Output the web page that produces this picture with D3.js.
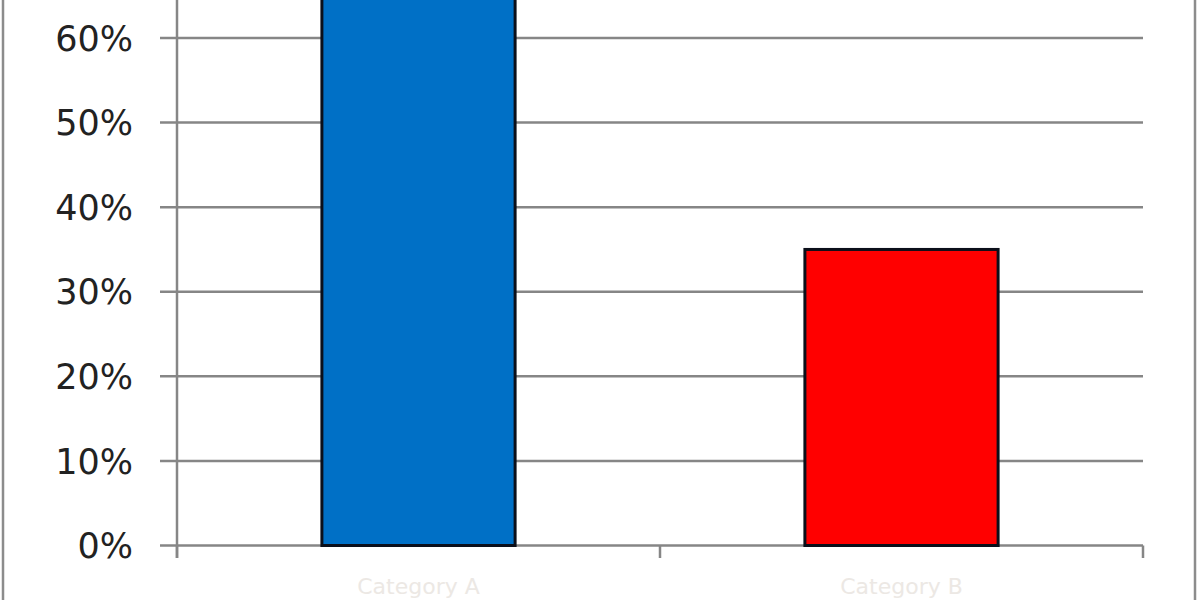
<!DOCTYPE html>
<html>
<head>
<meta charset="utf-8">
<script src="https://cdn.jsdelivr.net/npm/d3@7"></script>
<style>
  body { margin: 0; background: #fff; }
  svg { display: block; }
</style>
</head>
<body>
<div id="chart"></div>
<script>
// values
var categories = ["Category A", "Category B"];
var values = [0.65, 0.35];
var barColors = ["#0070C6", "#FF0000"];
var yTicks = [0, 0.1, 0.2, 0.3, 0.4, 0.5, 0.6];

var width = 1200;
var height = 600;

var svg = d3.select("#chart")
    .append("svg")
    .attr("width", width)
    .attr("height", height)
    .style("background-color", "white");

// outer chart frame (only the sides show in the crop)
svg.append("line")
    .attr("x1", 3).attr("x2", 3)
    .attr("y1", 0).attr("y2", height)
    .attr("stroke", "#8c8c8c").attr("stroke-width", 2.5);
svg.append("line")
    .attr("x1", 1195).attr("x2", 1195)
    .attr("y1", 0).attr("y2", height)
    .attr("stroke", "#8c8c8c").attr("stroke-width", 2.5);

var x = d3.scaleBand()
    .domain(categories)
    .range([177, 1143])
    .paddingInner(0.6)
    .paddingOuter(0.3);

var y = d3.scaleLinear()
    .domain([0, 0.6])
    .range([545.5, 38]);

var fmt = d3.format(".0%");

// gridlines
svg.append("g")
    .selectAll("line")
    .data(yTicks)
    .enter().append("line")
    .attr("x1", 160)
    .attr("x2", 1143)
    .attr("y1", function (d) { return y(d); })
    .attr("y2", function (d) { return y(d); })
    .attr("stroke", "#868686")
    .attr("stroke-width", 2.5);

// y axis line
svg.append("line")
    .attr("x1", 177).attr("x2", 177)
    .attr("y1", 0).attr("y2", 558)
    .attr("stroke", "#868686").attr("stroke-width", 2.5);

// category tick marks below baseline (category boundaries)
svg.append("g")
    .selectAll("line")
    .data(categories.concat(["end"]))
    .enter().append("line")
    .attr("x1", function (d, i) { return i < categories.length ? x(d) - x.step() * 0.3 : 1143; })
    .attr("x2", function (d, i) { return i < categories.length ? x(d) - x.step() * 0.3 : 1143; })
    .attr("y1", 545.5)
    .attr("y2", 558)
    .attr("stroke", "#868686")
    .attr("stroke-width", 2.5);

// y tick labels
svg.append("g")
    .selectAll("text")
    .data(yTicks)
    .enter().append("text")
    .attr("x", 133)
    .attr("y", function (d) { return y(d); })
    .attr("dy", "0.36em")
    .attr("text-anchor", "end")
    .attr("font-family", "DejaVu Sans, Verdana, sans-serif")
    .attr("font-size", "35px")
    .attr("fill", "#222")
    .text(function (d) { return fmt(d); });

// bars
svg.append("g")
    .selectAll("rect")
    .data(values)
    .enter().append("rect")
    .attr("x", function (d, i) { return x(categories[i]); })
    .attr("y", function (d) { return y(d); })
    .attr("width", x.bandwidth())
    .attr("height", function (d) { return y(0) - y(d); })
    .attr("fill", function (d, i) { return barColors[i]; })
    .attr("stroke", "#0b0f1a")
    .attr("stroke-width", 3);

// category labels (very faint in the reference)
svg.append("g")
    .selectAll("text")
    .data(categories)
    .enter().append("text")
    .attr("x", function (d) { return x(d) + x.bandwidth() / 2; })
    .attr("y", 594)
    .attr("text-anchor", "middle")
    .attr("font-family", "DejaVu Sans, Verdana, sans-serif")
    .attr("font-size", "22px")
    .attr("fill", "#ece8e4")
    .text(function (d) { return d; });
</script>
</body>
</html>
